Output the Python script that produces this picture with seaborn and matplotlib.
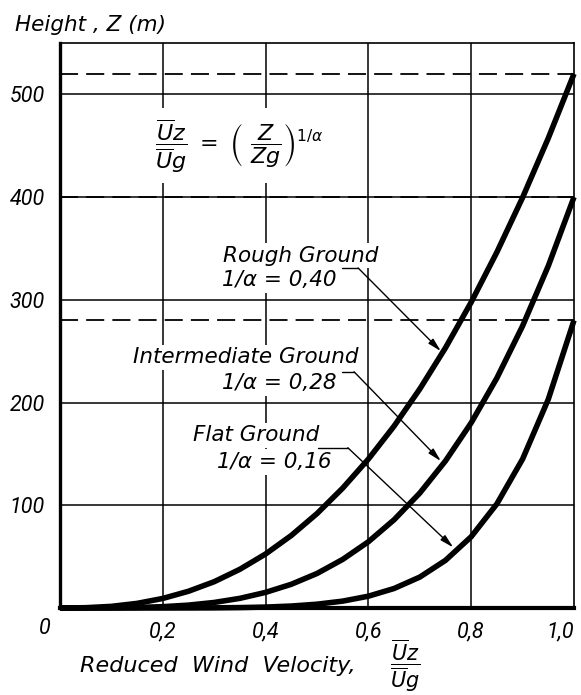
import matplotlib
matplotlib.use("Agg")
import matplotlib.pyplot as plt
import seaborn as sns
import pandas as pd

# ---- data ----
velocity = [0.00, 0.05, 0.10, 0.15, 0.20, 0.25, 0.30, 0.35, 0.40, 0.45, 0.50,
            0.55, 0.60, 0.65, 0.70, 0.75, 0.80, 0.85, 0.90, 0.95, 1.00]
rough_height = [0.0, 0.3, 1.6, 4.5, 9.3, 16.3, 25.6, 37.7, 52.6, 70.6, 91.9,
                116.7, 145.0, 177.1, 213.2, 253.3, 297.7, 346.4, 399.6, 457.4, 520.0]
intermediate_height = [0.0, 0.0, 0.1, 0.5, 1.3, 2.8, 5.4, 9.4, 15.2, 23.1, 33.6,
                       47.3, 64.5, 85.9, 111.9, 143.2, 180.3, 223.9, 274.6, 333.0, 400.0]
flat_height = [0.0, 0.0, 0.0, 0.0, 0.0, 0.05, 0.15, 0.4, 0.9, 1.9, 3.7,
               6.7, 11.5, 19.0, 30.1, 46.4, 69.4, 101.4, 145.0, 203.2, 280.0]
series_names = ["Rough Ground", "Intermediate Ground", "Flat Ground"]
gradient_heights = [520, 400, 280]
x_ticks = [0.2, 0.4, 0.6, 0.8, 1.0]
x_tick_labels = ["0,2", "0,4", "0,6", "0,8", "1,0"]
y_ticks = [100, 200, 300, 400, 500]
y_tick_labels = ["100", "200", "300", "400", "500"]

df = pd.concat([
    pd.DataFrame({"U": velocity, "Z": rough_height, "ground": series_names[0]}),
    pd.DataFrame({"U": velocity, "Z": intermediate_height, "ground": series_names[1]}),
    pd.DataFrame({"U": velocity, "Z": flat_height, "ground": series_names[2]}),
])

sns.set_style("white")
plt.rcParams["font.family"] = ["DejaVu Sans"]
plt.rcParams["mathtext.fontset"] = "dejavusans"

W, H = 581, 695
fig = plt.figure(figsize=(W / 100, H / 100), dpi=100)
L, R, T, B = 60, 574, 43, 608
ax = fig.add_axes([L / W, 1 - B / H, (R - L) / W, (B - T) / H])

FS = 15.5
tfont = dict(fontsize=FS, style="italic", color="black")
tickfont = dict(fontsize=15.5, style="italic", color="black", family=["Roboto", "DejaVu Sans"])

# grid
for xv in [0.2, 0.4, 0.6, 0.8]:
    ax.axvline(xv, color="black", lw=1.1, zorder=1)
for yv in y_ticks:
    ax.axhline(yv, color="black", lw=1.1, zorder=1)
for yv in gradient_heights:
    ax.axhline(yv, color="black", lw=1.3, ls=(0, (10, 4.5)), zorder=1.5)

sns.lineplot(data=df, x="U", y="Z", hue="ground", palette=["black"] * 3,
             linewidth=4.0, legend=False, ax=ax, zorder=5, clip_on=False)
for ln in ax.lines[-3:]:
    ln.set_solid_capstyle("butt")

ax.set_xlim(0, 1.0)
ax.set_ylim(0, 550)
ax.set_xticks(x_ticks)
ax.set_xticklabels(x_tick_labels, **tickfont)
ax.set_yticks(y_ticks)
ax.set_yticklabels(y_tick_labels, **tickfont)
ax.tick_params(axis="both", length=0)
ax.tick_params(axis="x", pad=10)
ax.tick_params(axis="y", pad=11)
ax.get_xticklabels()[-1].set_horizontalalignment("right")

for s in ["top", "right"]:
    ax.spines[s].set_linewidth(1.2)
ax.spines["left"].set_linewidth(2.4)
ax.spines["bottom"].set_linewidth(3.0)
for s in ax.spines.values():
    s.set_color("black")
    s.set_zorder(6)

# corner zero
ax.text(-0.029, -20, "0", ha="center", va="center", clip_on=False, **tickfont)

# axis labels
ax.set_ylabel("Height , Z (m)", rotation=0, ha="left", va="center", **tfont)
ax.yaxis.set_label_coords((15 - L) / (R - L), (B - 25) / (B - T))
ax.set_xlabel("Reduced  Wind  Velocity,", ha="left", va="center",
              fontsize=16, style="italic", color="black")
ax.xaxis.set_label_coords((80 - L) / (R - L), -(666 - B) / (B - T))
fig.text(405 / W, 1 - 666 / H, r"$\dfrac{\overline{U}z}{\overline{U}g}$",
         ha="center", va="center", fontsize=15, color="black")

bb = dict(facecolor="white", edgecolor="none", pad=2)

# formula
ax.text(0.185, 450, r"$\dfrac{\overline{U}z}{\overline{U}g}\ =\ \left(\ \dfrac{Z}{Zg}\right)^{1/\alpha}$",
        ha="left", va="center", fontsize=FS + 0.5, color="black",
        bbox=dict(facecolor="white", edgecolor="none", pad=6), zorder=3)

# curve labels
labels = [
    ("Rough Ground", 0.317, 343, "1/α = 0,40", 0.315, 319,
     (0.549, 331), (0.580, 331), (0.741, 250)),
    ("Intermediate Ground", 0.142, 244, "1/α = 0,28", 0.315, 219,
     (0.549, 230), (0.572, 230), (0.741, 143)),
    ("Flat Ground", 0.259, 168, "1/α = 0,16", 0.305, 142,
     (0.502, 156), (0.560, 156), (0.765, 59)),
]
for t1, x1, y1, t2, x2, y2, p0, p1, p2 in labels:
    ax.text(x1, y1, t1, ha="left", va="center", bbox=bb, zorder=3, **tfont)
    ax.text(x2, y2, t2, ha="left", va="center", bbox=bb, zorder=3, **tfont)
    ax.plot([p0[0], p1[0]], [p0[1], p1[1]], color="black", lw=1.0, zorder=4)
    ax.annotate("", xy=p2, xytext=p1,
                arrowprops=dict(arrowstyle="-|>,head_length=0.8,head_width=0.2",
                                color="black", lw=1.0, shrinkA=0, shrinkB=0),
                zorder=4)

fig.savefig("out.png", dpi=100, facecolor="white")
